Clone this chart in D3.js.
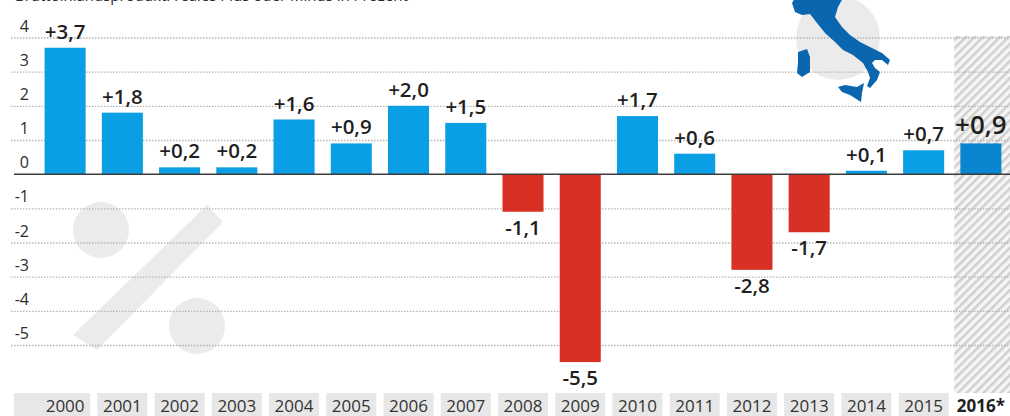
<!DOCTYPE html>
<html>
<head>
<meta charset="utf-8">
<script src="https://cdn.jsdelivr.net/npm/d3@7"></script>
<style>
html,body{margin:0;padding:0;background:#fff;overflow:hidden}
svg{display:block}
text{font-family:"Open Sans","Noto Sans",sans-serif}
</style>
</head>
<body>
<svg id="chart" width="1010" height="416"></svg>
<script>
// Annual change, in percent
const years = ["2000","2001","2002","2003","2004","2005","2006","2007","2008","2009","2010","2011","2012","2013","2014","2015","2016*"];
const growth = [3.7,1.8,0.2,0.2,1.6,0.9,2.0,1.5,-1.1,-5.5,1.7,0.6,-2.8,-1.7,0.1,0.7,0.9];
const yTicks = [4,3,2,1,0,-1,-2,-3,-4,-5];
const forecastYear = "2016*";
const subtitle = "Bruttoinlandsprodukt: reales Plus oder Minus in Prozent";

// Outlines of the mainland and islands for the small locator map
const mainland = [[792,3],[795,-2],[843,-2],[838,7],[835,17],[842,27],[850,35],[860,42],[870,47],[882,53],[890,60],[888,65],[882,60],[875,60],[872,63],[875,68],[880,72],[877,80],[870,88],[867,86],[870,78],[868,72],[863,63],[853,55],[843,50],[835,42],[825,33],[817,23],[810,14],[802,15],[795,12]];
const sardinia = [[798,52],[807,49],[810,57],[810,72],[802,77],[797,73],[798,63]];
const sicily = [[838,87],[845,85],[857,87],[864,83],[862,93],[861,102],[850,95],[842,92]];
// Percent symbol in the lower left of the plot
const percentSlash = [[207,205],[223,222],[97,350],[73,335]];
const percentDots = [[101,230,28],[197,326,28]];

const BLUE = "#0a9ee4", BLUE_DARK = "#0a85d0", RED = "#d93025", INK = "#2b2b2b", TILE = "#e7e7e7", WATERMARK = "#ebebeb";

const svg = d3.select("#chart");
const x = d3.scaleBand().domain(years).range([36.5, 1009.5]).paddingInner(0.283).paddingOuter(0.1415);
const y = d3.scaleLinear().domain([-5, 4]).range([345, 37.5]);
const center = d => x(d) + x.bandwidth() / 2;

// Hatching for the forecast year
const defs = svg.append("defs");
const hatch = defs.append("pattern").attr("id", "hatch").attr("patternUnits", "userSpaceOnUse")
  .attr("width", 6).attr("height", 6).attr("patternTransform", "rotate(45)");
hatch.append("rect").attr("width", 6).attr("height", 6).attr("fill", "#f5f5f5");
hatch.append("rect").attr("width", 2.5).attr("height", 6).attr("fill", "#cfcfcf");

const poly = d3.line();

svg.append("text").attr("x", 15).attr("y", 0.5).attr("font-size", 15).attr("fill", INK).text(subtitle);

svg.append("rect").attr("x", x(forecastYear) - 6).attr("y", 36).attr("width", 1010 - x(forecastYear) + 6).attr("height", 357).attr("fill", "url(#hatch)");

// Watermarks sit beneath the grid
svg.append("path").attr("d", poly(percentSlash) + "Z").attr("fill", WATERMARK);
svg.selectAll("circle.dot").data(percentDots).join("circle").attr("class", "dot")
  .attr("cx", d => d[0]).attr("cy", d => d[1]).attr("r", d => d[2]).attr("fill", WATERMARK);
svg.append("circle").attr("cx", 838).attr("cy", 38).attr("r", 42).attr("fill", WATERMARK);

// Value axis with dotted grid lines
const yAxis = svg.append("g").attr("transform", "translate(11,0)")
  .call(d3.axisRight(y).tickValues(yTicks).tickSize(999).tickFormat(d3.format("d")));
yAxis.select(".domain").remove();
yAxis.selectAll(".tick line").filter(d => d !== 0)
  .attr("stroke", "#b4b4b4").attr("stroke-width", 1.3).attr("stroke-dasharray", "1.5 1.5");
yAxis.selectAll(".tick line").filter(d => d === 0).attr("stroke", "none");
yAxis.selectAll(".tick text")
  .attr("x", 18).attr("dy", "-0.4em").attr("text-anchor", "end")
  .attr("font-size", 16).attr("fill", INK).text(d => d);

// Map
svg.append("g").attr("fill", "#0a66ae").selectAll("path")
  .data([mainland, sardinia, sicily]).join("path").attr("d", d => poly(d) + "Z");

// Bars
const rows = years.map((year, i) => ({ year, value: growth[i] }));
svg.selectAll("rect.bar").data(rows).join("rect").attr("class", "bar")
  .attr("x", d => x(d.year)).attr("width", x.bandwidth())
  .attr("y", d => y(Math.max(d.value, 0)))
  .attr("height", d => Math.abs(y(d.value) - y(0)))
  .attr("fill", d => d.year === forecastYear ? BLUE_DARK : d.value < 0 ? RED : BLUE);

// Zero line
svg.append("line").attr("x1", 14).attr("x2", 1010).attr("y1", y(0)).attr("y2", y(0))
  .attr("stroke", "#3d3d3d").attr("stroke-width", 1.5);

// Value labels
const fmt = v => (v > 0 ? "+" : "-") + Math.abs(v).toFixed(1).replace(".", ",");
svg.selectAll("text.val").data(rows).join("text").attr("class", "val")
  .attr("x", d => center(d.year))
  .attr("y", d => d.value >= 0 ? y(d.value) - 9 : y(d.value) + 23)
  .attr("text-anchor", "middle")
  .attr("font-size", d => d.year === forecastYear ? 26 : 20.5)
  .attr("font-weight", 600)
  .attr("fill", "#1f1f1f").text(d => fmt(d.value));

// Year tiles along the bottom
const tiles = years.filter(d => d !== forecastYear);
svg.selectAll("rect.tile").data(tiles).join("rect").attr("class", "tile")
  .attr("x", (d, i) => i === 0 ? 14 : center(d) - 25)
  .attr("width", (d, i) => i === 0 ? center(d) + 25 - 14 : 50)
  .attr("y", 393).attr("height", 23).attr("fill", TILE);

const xAxis = svg.append("g").attr("transform", "translate(0,412)")
  .call(d3.axisBottom(x).tickSize(0));
xAxis.select(".domain").remove();
xAxis.selectAll(".tick text")
  .attr("y", 0).attr("dy", 0).attr("font-size", 17)
  .attr("font-weight", d => d === forecastYear ? 700 : 400)
  .attr("fill", d => d === forecastYear ? "#1f1f1f" : "#333");
</script>
</body>
</html>
